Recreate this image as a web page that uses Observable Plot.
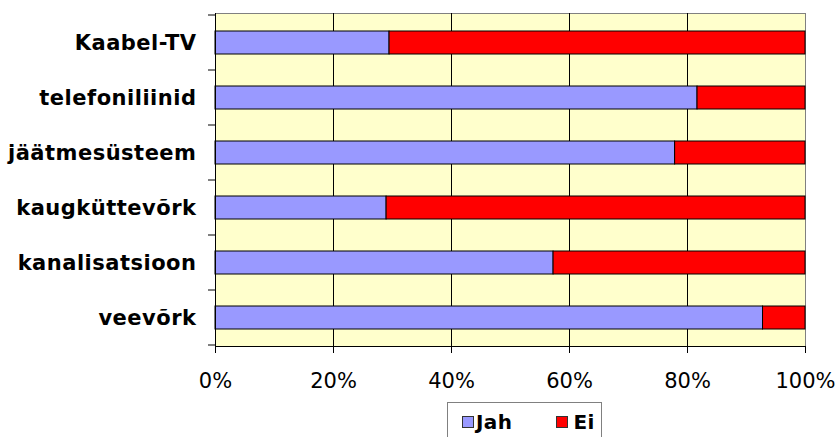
<!DOCTYPE html>
<html>
<head>
<meta charset="utf-8">
<script src="https://cdn.jsdelivr.net/npm/d3@7"></script>
<script src="https://cdn.jsdelivr.net/npm/@observablehq/plot@0.6"></script>
<style>
  html, body { margin: 0; padding: 0; background: #fff; }
  #chart svg { display: block; }
  .legend {
    margin-left: 447px; width: 155px; height: 40px;
    border: 1px solid #808080; box-sizing: border-box;
    display: flex; align-items: center; gap: 0;
    font-family: "DejaVu Sans", Verdana, sans-serif; font-weight: bold; font-size: 20px;
    letter-spacing: 0.4px;
  }
  .item { display: flex; align-items: center; }
  .sw { width: 10px; height: 10px; border: 1px solid #333; }
</style>
</head>
<body>
<div id="chart"></div>
<div class="legend" id="legend"></div>
<script>
const categories = ["Kaabel-TV", "telefoniliinid", "jäätmesüsteem", "kaugküttevõrk", "kanalisatsioon", "veevõrk"];
const jah = [29.5, 81.7, 77.9, 29.0, 57.3, 92.8];
const ei = [70.5, 18.3, 22.1, 71.0, 42.7, 7.2];
const series = ["Jah", "Ei"];
const colors = ["#9999FF", "#FF0000"];
const xTicks = [0, 20, 40, 60, 80, 100];
const gridTicks = [20, 40, 60, 80];

const data = categories.flatMap((c, i) => [
  {cat: c, s: series[0], v: jah[i]},
  {cat: c, s: series[1], v: ei[i]}
]);

const font = "'DejaVu Sans', Verdana, sans-serif";

const chart = Plot.plot({
  width: 838,
  height: 402,
  marginLeft: 215,
  marginRight: 33,
  marginTop: 13,
  marginBottom: 56,
  style: {fontFamily: font, color: "#000", background: "#fff"},
  x: {domain: [0, 100]},
  y: {domain: categories, paddingInner: 0.59, paddingOuter: 0.295},
  color: {domain: series, range: colors},
  marks: [
    Plot.frame({fill: "#FFFFCC", stroke: "#808080"}),
    Plot.ruleX(gridTicks, {stroke: "#000", strokeWidth: 1}),
    Plot.barX(data, Plot.stackX({y: "cat", x: "v", fill: "s", stroke: "#000", strokeWidth: 1, order: series})),
    Plot.ruleX([0], {stroke: "#000", strokeWidth: 1}),
    Plot.frame({anchor: "bottom", stroke: "#000"}),
    Plot.axisX({ticks: xTicks, tickSize: 7, tickPadding: 20, tickFormat: d => d + "%", fontSize: 21, label: null}),
    Plot.axisY({tickSize: 0, tickPadding: 19, fontSize: 21, fontWeight: "bold", label: null})
  ]
});

document.getElementById("chart").appendChild(chart);
d3.select(chart).selectAll("[aria-label='y-axis tick label'] text").style("letter-spacing", "0.5px");

// category separator ticks on the left axis, positioned from the plot's own scales
const ys = chart.scale("y");
const xs = chart.scale("x");
const x0 = xs.apply(0);
const gap = (ys.step - ys.bandwidth) / 2;
const bounds = categories.map(c => ys.apply(c) - gap);
bounds.push(ys.apply(categories[categories.length - 1]) + ys.bandwidth + gap);
d3.select(chart).append("g")
  .selectAll("line").data(bounds).join("line")
  .attr("x1", x0 - 7).attr("x2", x0)
  .attr("y1", d => d).attr("y2", d => d)
  .attr("stroke", "#000");

// legend
const lg = d3.select("#legend").style("padding-left", "14px");
series.forEach((s, i) => {
  const it = lg.append("div").attr("class", "item").style("margin-right", i === 0 ? "44px" : "0");
  it.append("div").attr("class", "sw").style("background", colors[i]).style("margin-right", i === 0 ? "2px" : "5px");
  it.append("span").text(s);
});
</script>
</body>
</html>
